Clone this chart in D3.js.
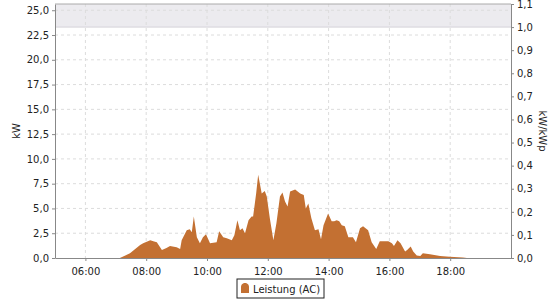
<!DOCTYPE html>
<html lang="de">
<head>
<meta charset="utf-8">
<title>Leistung (AC)</title>
<script src="https://d3js.org/d3.v7.min.js"></script>
<style>
  body { margin: 0; background: #fff; }
  text { font-family: "DejaVu Sans", sans-serif; font-size: 10px; fill: #222; }
  .grid line { stroke: #dcdcdc; stroke-dasharray: 3,3; }
  .axis path, .axis line { stroke: #888; }
</style>
</head>
<body>
<div id="chart"></div>
<script>
// --- data ---
var times = ["07:08","07:28","07:48","07:54","08:08","08:14","08:21","08:31","08:40","08:47",
  "09:00","09:07","09:10","09:20","09:26","09:30","09:34","09:40","09:46","09:52","09:58",
  "10:06","10:19","10:24","10:32","10:39","10:49","10:54","11:00","11:05","11:10","11:15",
  "11:22","11:28","11:31","11:37","11:41","11:48","11:54","11:58","12:04","12:11","12:17",
  "12:24","12:29","12:34","12:39","12:44","12:54","13:04","13:11","13:15","13:20","13:26",
  "13:33","13:40","13:45","13:50","13:59","14:06","14:11","14:16","14:21","14:26","14:32",
  "14:39","14:48","14:54","15:02","15:08","15:18","15:25","15:34","15:41","15:58","16:05",
  "16:09","16:16","16:22","16:31","16:35","16:42","16:47","16:54","17:01","17:06","17:20",
  "17:40","17:59","18:25","18:33"];
var power = [0,0.47,1.3,1.5,1.8,1.7,1.6,0.8,1.0,1.2,
  1.08,0.9,1.8,2.8,2.9,2.6,4.2,2.1,1.5,2.1,2.4,
  1.5,1.6,2.7,2.1,2.0,1.8,2.3,3.8,2.8,3.0,2.5,
  3.8,4.2,4.2,6.5,8.4,6.5,6.75,6.2,4.0,1.8,3.5,
  6.2,6.6,5.7,5.2,6.7,6.9,6.5,6.35,5.0,5.5,4.0,
  2.8,2.9,1.9,3.3,4.5,3.7,3.7,3.8,3.7,3.3,3.2,
  2.1,2.1,1.6,3.0,3.2,2.8,1.6,0.9,1.7,1.7,1.5,
  1.2,1.8,1.5,0.65,0.8,1.15,0.65,0.25,0.2,0.47,0.37,
  0.2,0.12,0.05,0];
var xTicks = ["06:00","08:00","10:00","12:00","14:00","16:00","18:00"];
var kWp = 23.3;
var seriesName = "Leistung (AC)";

var W = 560, H = 300;
var m = {top: 4, right: 49, bottom: 42, left: 55};
var iw = W - m.left - m.right, ih = H - m.top - m.bottom;

var parse = d3.timeParse("%H:%M");
var de = d3.formatLocale({decimal: ",", thousands: ".", grouping: [3], currency: ["", " €"]});
var f1 = de.format(".1f");

var svg = d3.select("#chart").append("svg").attr("width", W).attr("height", H);
var g = svg.append("g").attr("transform", "translate(" + m.left + "," + m.top + ")");

var x = d3.scaleTime().domain([parse("05:00"), parse("20:00")]).range([0, iw]);
var yMax = kWp * 1.1;
var y = d3.scaleLinear().domain([0, yMax]).range([ih, 0]);
var y2 = d3.scaleLinear().domain([0, 1.1]).range([ih, 0]);

var leftTicks = d3.range(0, 25.01, 2.5);
var rightTicks = d3.range(0, 11).map(function(d){ return d / 10; }).concat([1.1]);

// band above 1 kW/kWp
g.append("rect").attr("x", 0).attr("y", 0).attr("width", iw).attr("height", y2(1))
  .attr("fill", "#ecebef");
g.append("line").attr("x1", 0).attr("x2", iw).attr("y1", y2(1)).attr("y2", y2(1))
  .attr("stroke", "#d4d2d8");

// grid
var grid = g.append("g").attr("class", "grid");
grid.selectAll(".h").data(leftTicks.slice(1)).enter().append("line")
  .attr("x1", 0).attr("x2", iw).attr("y1", y).attr("y2", y);
grid.selectAll(".v").data(xTicks).enter().append("line")
  .attr("x1", function(d){ return x(parse(d)); }).attr("x2", function(d){ return x(parse(d)); })
  .attr("y1", 0).attr("y2", ih);

// area
var data = times.map(function(t, i){ return {t: parse(t), v: power[i]}; });
var area = d3.area().x(function(d){ return x(d.t); }).y0(ih).y1(function(d){ return y(d.v); });
g.append("path").datum(data).attr("d", area).attr("fill", "#c37032");

// axes
var ax = g.append("g").attr("class", "axis").attr("transform", "translate(0," + ih + ")")
  .call(d3.axisBottom(x).tickValues(xTicks.map(parse)).tickFormat(d3.timeFormat("%H:%M"))
    .tickSize(3).tickSizeOuter(0));
var ayl = g.append("g").attr("class", "axis")
  .call(d3.axisLeft(y).tickValues(leftTicks).tickFormat(f1).tickSize(3).tickSizeOuter(0));
var ayr = g.append("g").attr("class", "axis").attr("transform", "translate(" + iw + ",0)")
  .call(d3.axisRight(y2).tickValues(rightTicks).tickFormat(f1).tickSize(3).tickSizeOuter(0));
g.selectAll(".axis text").attr("font-family", "DejaVu Sans, sans-serif").attr("font-size", 10).attr("fill", "#222");
ax.selectAll("text").attr("dy", "1.05em");
g.append("line").attr("x1", 0).attr("x2", iw).attr("y1", 0).attr("y2", 0).attr("stroke", "#aaa");

// axis titles
svg.append("text").attr("transform", "translate(20," + (m.top + ih / 2) + ") rotate(-90)")
  .attr("text-anchor", "middle").text("kW");
svg.append("text").attr("transform", "translate(539," + (m.top + ih / 2) + ") rotate(90)")
  .attr("text-anchor", "middle").text("kW/kWp");

// legend
var lg = svg.append("g").attr("transform", "translate(237,279)");
lg.append("rect").attr("width", 87).attr("height", 19).attr("fill", "#fff").attr("stroke", "#222");
lg.append("path").attr("d", "M4,14 L4,8 Q4,5 7,4 L9,4 Q12,5 12,8 L12,14 Z").attr("fill", "#c37032");
lg.append("text").attr("x", 16).attr("y", 13.5).attr("font-size", 11).text(seriesName);
</script>
</body>
</html>
